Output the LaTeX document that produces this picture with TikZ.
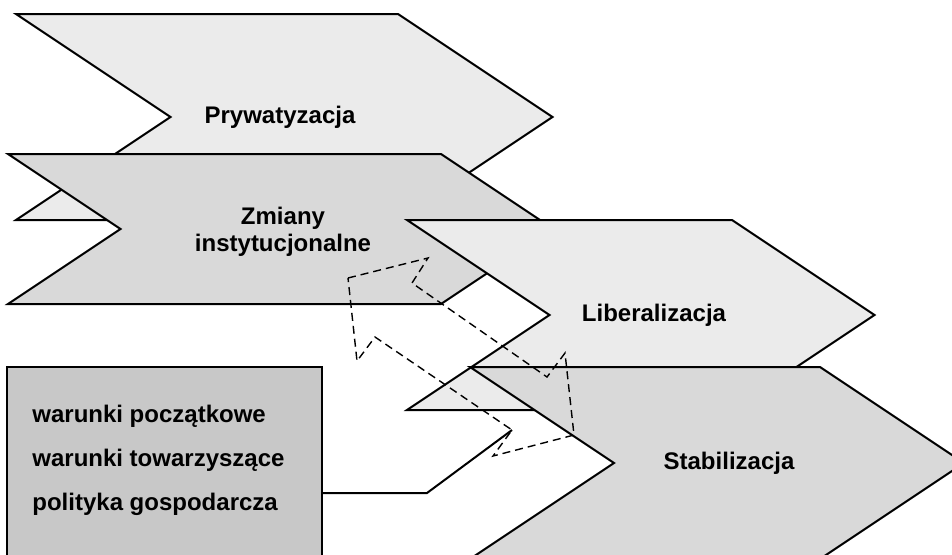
\documentclass[tikz,border=0pt]{standalone}
\usepackage{fontspec}
\setmainfont{Liberation Sans}
\usetikzlibrary{positioning}
\definecolor{chevlightgray}{HTML}{EBEBEB}
\definecolor{chevdarkgray}{HTML}{D9D9D9}
\definecolor{boxgray}{HTML}{C8C8C8}
\tikzset{chevlight/.style={draw=black,fill=chevlightgray,line width=1pt}}
\tikzset{chevdark/.style={draw=black,fill=chevdarkgray,line width=1pt}}
\tikzset{chevlabel/.style={font=\bfseries\fontsize{12}{13.75}\selectfont,
align=center,inner sep=0pt}}
\tikzset{infobox/.style={rectangle,draw=black,fill=boxgray,line width=1pt,
inner sep=0pt,minimum width=157.5pt,minimum height=101.5pt}}
\tikzset{infotext/.style={font=\bfseries\fontsize{12}{22}\selectfont,
align=left,inner sep=0pt}}
\tikzset{flowband/.style={draw=black,line width=0.7pt,dash pattern=on 4pt off 2.5pt}}
\tikzset{linkline/.style={draw=black,line width=1pt}}

% top-left x, top y, top length, half height, style
\newcommand{\chevron}[5]{%
  \draw[#5] (#1,#2) -- ++(#3,0) -- ++({1.5*#4},#4) -- ++({-1.5*#4},#4)
    -- ++(-#3,0) -- ++({1.5*#4},-#4) -- cycle;}

\begin{document}
\begin{tikzpicture}[x=0.5pt,y=-0.5pt]
    \useasboundingbox (0,0) rectangle (952,554);
    \clip (0,0) rectangle (952,554);

    \chevron{16}{14}{382}{103}{chevlight}
    \node[chevlabel] (prywatyzacja) at (280,117) {Prywatyzacja};

    \chevron{8}{154}{433}{75}{chevdark}
    \node[chevlabel] (zmiany) at (283,232) {Zmiany\\instytucjonalne};

    \chevron{407}{220}{325}{95}{chevlight}
    \node[chevlabel] (liberalizacja) at (654,315) {Liberalizacja};

    \chevron{470}{367}{350}{96}{chevdark}
    \node[chevlabel] (stabilizacja) at (729,463) {Stabilizacja};

    \node[infobox] (warunki) at (164.5,468.5) {};
    \node[infotext, anchor=west] (warunkitext) at (32,460)
        {warunki początkowe\\warunki towarzyszące\\polityka gospodarcza};

    % dashed band between the blocks
    \coordinate (d1) at (348,278);
    \coordinate (d2) at (428,258);
    \coordinate (d3) at (412,283);
    \coordinate (d4) at (547,377);
    \coordinate (d5) at (565,353);
    \coordinate (d6) at (574,435);
    \coordinate (d7) at (493,456);
    \coordinate (d8) at (512,430);
    \coordinate (d9) at (375,337);
    \coordinate (d10) at (357,361);
    \draw[flowband] (d1) -- (d2) -- (d3) -- (d4) -- (d5) -- (d6) -- (d7)
        -- (d8) -- (d9) -- (d10) -- cycle;

    \coordinate (bend) at (427,493);
    \draw[linkline] (warunki.east |- bend) -- (bend) -- (d8);

\end{tikzpicture}
\end{document}
